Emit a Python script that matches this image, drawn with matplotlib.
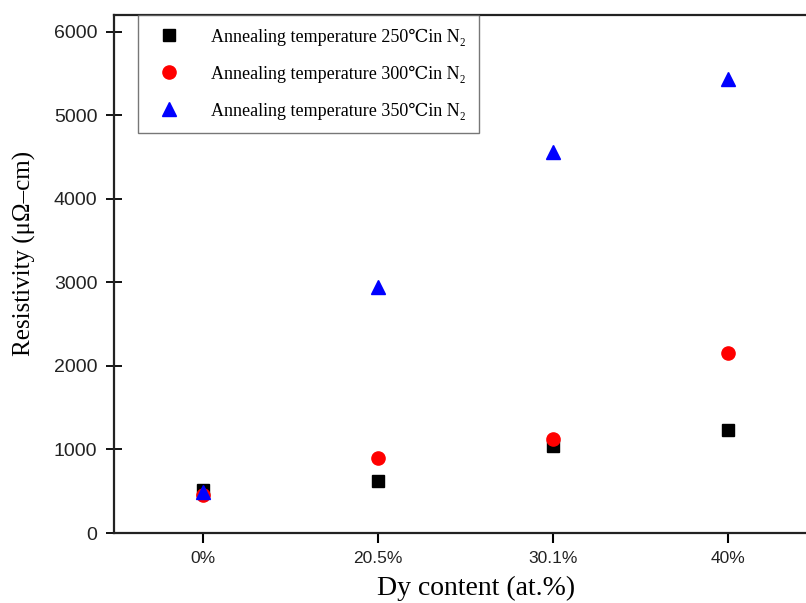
import matplotlib
matplotlib.use("Agg")
import matplotlib.pyplot as plt

categories = ["0%", "20.5%", "30.1%", "40%"]
res_250 = [520, 620, 1040, 1230]
res_300 = [450, 900, 1130, 2160]
res_350 = [490, 2940, 4560, 5430]
labels = ["Annealing temperature 250\u2103in N\u2082",
          "Annealing temperature 300\u2103in N\u2082",
          "Annealing temperature 350\u2103in N\u2082"]
y_ticks = [0, 1000, 2000, 3000, 4000, 5000, 6000]

serif = ['Liberation Serif', 'DejaVu Serif']
sans = ['Liberation Sans', 'DejaVu Sans']

fig = plt.figure(figsize=(8.06, 6.03), dpi=100)
W = 1.012 * 806 - 114
ax = fig.add_axes([114/806, 1-533/603, W/806, (533-15)/603])

x = list(range(len(categories)))
ax.plot(x, res_250, linestyle='none', marker='s', color='black', markersize=8.5, label=labels[0])
ax.plot(x, res_300, linestyle='none', marker='o', color='red', markersize=9.5, label=labels[1])
ax.plot(x, res_350, linestyle='none', marker='^', color='blue', markersize=10.5, label=labels[2])

ax.set_xlim(-0.51, 3.5)
ax.set_ylim(0, 6200)
ax.set_xticks(x)
ax.set_xticklabels(categories, family=sans, fontsize=12.5, color='#222222')
ax.set_yticks(y_ticks)
ax.set_yticklabels([str(v) for v in y_ticks], family=sans, fontsize=14, color='#222222')

ax.tick_params(axis='x', direction='out', length=7, width=1.5, pad=6)
ax.tick_params(axis='y', direction='inout', length=12, width=1.3, pad=6)
for s in ['left', 'bottom', 'top']:
    ax.spines[s].set_linewidth(1.6)
    ax.spines[s].set_color('#222222')
ax.spines['right'].set_visible(False)

ax.set_xlabel("Dy content (at.%)", family=serif, fontsize=20)
ax.xaxis.set_label_coords((476-114)/W, -0.082)
ax.set_ylabel("Resistivity (\u03bc\u03a9\u2013cm)", family=serif, fontsize=18)
ax.yaxis.set_label_coords(-(114-36)/W, (533-253)/518)

leg = ax.legend(loc='upper left', bbox_to_anchor=(0.034, 1.0), frameon=True, fancybox=False,
                prop={'family': serif, 'size': 13}, borderpad=0.75, labelspacing=1.1,
                handletextpad=1.3, handlelength=2.0, borderaxespad=0)
leg.get_frame().set_edgecolor('#555555')
leg.get_frame().set_linewidth(1.0)

fig.savefig("out.png", dpi=100)
